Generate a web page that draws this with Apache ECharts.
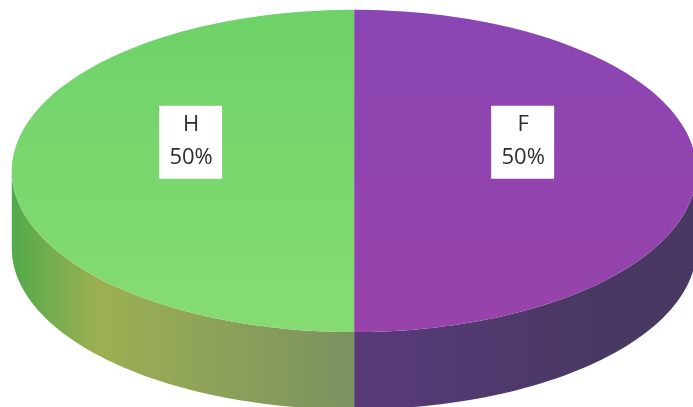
<!DOCTYPE html>
<html>
<head>
<meta charset="utf-8">
<script src="https://cdn.jsdelivr.net/npm/echarts@6/dist/echarts.min.js"></script>
<style>
  html, body { margin: 0; padding: 0; background: #ffffff; }
  #chart { width: 693px; height: 407px; }
</style>
</head>
<body>
<div id="chart"></div>
<script>
// Slices, listed clockwise from 12 o'clock
const categories = ['F', 'H'];
const values = [50, 50];

// Face colours per slice: [top start, top end], [side near, side far]
const topColors = [['#8a46b3', '#9843ab'], ['#6dd269', '#86dc72']];
const sideColors = [['#583a7a', '#483862'], ['#7c9160', '#9cb052']];
const sideEdge = ['#483862', '#52aa4b'];

const chart = echarts.init(document.getElementById('chart'), null, { renderer: 'canvas' });

const total = values.reduce((a, b) => a + b, 0);

function renderSlice(params, api) {
  const W = api.getWidth(), H = api.getHeight();
  const cx = W * 0.511, cy = H * 0.42;
  const rx = W * 0.494, ry = H * 0.396;
  const depth = H * 0.19;
  const idx = params.dataIndex;

  let before = 0;
  for (let i = 0; i < idx; i++) before += values[i];
  const a0 = before / total * Math.PI * 2;
  const a1 = (before + api.value(0)) / total * Math.PI * 2;

  const pt = (t, dy) => [cx + rx * Math.sin(t), cy - ry * Math.cos(t) + (dy || 0)];
  const arc = (s, e, dy) => {
    const n = Math.max(2, Math.ceil(Math.abs(e - s) / (Math.PI * 2) * 240));
    const pts = [];
    for (let k = 0; k <= n; k++) pts.push(pt(s + (e - s) * k / n, dy));
    return pts;
  };

  const children = [];

  // Visible side wall: the part of the slice in the front half (90° .. 270°)
  const s = Math.max(a0, Math.PI / 2), e = Math.min(a1, Math.PI * 1.5);
  if (e > s) {
    const pts = arc(s, e, 0).concat(arc(e, s, depth));
    const leftSide = Math.sin((s + e) / 2) < 0;
    children.push({
      type: 'polygon',
      z2: 1,
      shape: { points: pts },
      style: {
        fill: new echarts.graphic.LinearGradient(leftSide ? 1 : 0, 0, leftSide ? 0 : 1, 0, [
          { offset: 0, color: sideColors[idx][0] },
          { offset: 0.75, color: sideColors[idx][1] },
          { offset: 1, color: sideEdge[idx] }
        ]),
        stroke: null
      }
    });
  }

  // Top face
  const topPts = [[cx, cy]].concat(arc(a0, a1, 0));
  children.push({
    type: 'polygon',
    z2: 10,
    shape: { points: topPts },
    style: {
      fill: new echarts.graphic.LinearGradient(0, 0, 0, 1, [
        { offset: 0, color: topColors[idx][0] },
        { offset: 1, color: topColors[idx][1] }
      ]),
      stroke: null
    }
  });

  // Data label in a white box
  const mid = (a0 + a1) / 2;
  const lx = cx + rx * 0.485 * Math.sin(mid) + 2;
  const ly = cy - ry * 0.485 * Math.cos(mid) - H * 0.072;
  const pct = Math.round(api.value(0) / total * 100) + '%';
  children.push({
    type: 'rect',
    z2: 20,
    shape: { x: lx - 31, y: ly - 36, width: 63, height: 73 },
    style: { fill: '#ffffff', stroke: null }
  });
  children.push({
    type: 'text',
    z2: 21,
    x: lx + 1,
    y: ly,
    style: {
      text: categories[idx] + '\n' + pct,
      fill: '#2e2e2e',
      font: '22px "Open Sans"',
      lineHeight: 33,
      align: 'center',
      verticalAlign: 'middle'
    }
  });

  return { type: 'group', children };
}

chart.setOption({
  backgroundColor: '#ffffff',
  animation: false,
  series: [{
    type: 'custom',
    coordinateSystem: 'none',
    renderItem: renderSlice,
    data: values.map((v, i) => ({ name: categories[i], value: [v] }))
  }]
});
</script>
</body>
</html>
